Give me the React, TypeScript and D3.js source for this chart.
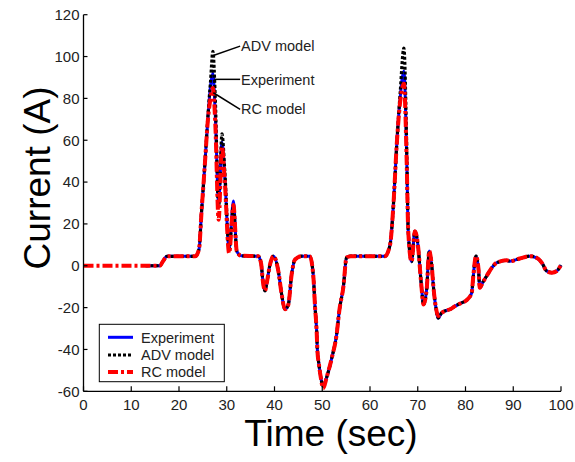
import React from "react";
import * as d3 from "d3";

const times = [0, 13, 16, 16.6, 17.5, 23.4, 24.2, 24.7, 25.4, 26.1, 26.6, 27.1, 27.6, 28.3, 29.0, 29.6, 30.5, 31.4, 32.1, 33,
  36.6, 37.2, 37.6, 38.0, 38.4, 39.0, 39.8, 40.8, 41.5, 42.2, 42.9, 43.6, 44.3, 45.7, 47.4, 48.1, 48.5, 48.8, 49.0, 49.3,
  49.7, 50.2, 50.9, 52.0, 53.0, 53.6, 54.4, 55.1, 56.0, 63.1, 64.2, 64.9, 65.6, 66.3, 67.1, 67.7, 68.0, 68.7, 69.4, 70.1,
  70.5, 70.8, 71.2, 71.9, 72.2, 72.4, 72.9, 73.3, 73.8, 74.3, 75.0, 76.1, 76.8, 77.8, 79.2, 80.2, 81.3, 81.6, 82.2, 82.7,
  83.0, 83.6, 84.4, 85.5, 86.5, 88.6, 89.3, 91.4, 93.5, 94.9, 96.0, 97.0, 98.1, 99.1, 100];

const experiment = [null, 0, 0, 2, 4.5, 4.5, 8, 25, 48, 72, 86, 92, 72, 30, 59, 42, 8, 31, 7, 4.8,
  4.5, 1, -8, -12, -8, 0, 4.6, -2.5, -13.7, -20.8, -18.5, -4, 3, 4.6, 4.5, -4, -20, -30, -41, -47,
  -53.5, -57.5, -53.5, -44, -33, -21, -10.5, 4, 4.6, 4.5, 10, 29, 58, 80, 93, 50, 17, 2, 16.5, 8.6,
  -2.5, -10.5, -18.5, -10.5, 2, 7, 0.7, -10.5, -20, -25, -22.5, -21.3, -20.8, -19.3, -17.7, -16.5, -13, -5.7, 4.6, -1,
  -10.5, -8, -5, -1, 1.4, 2.6, 2.2, 3.5, 4.6, 3.8, 1.4, -2.5, -3.3, -2.5, 0.3];

const advModel = [null, 0, 0, 2, 4.5, 4.5, 8, 25, 48, 73, 88, 102.5, 80, 28, 63, 45, 8, 28, 7, 4.8,
  4.5, 1, -8, -12, -8, 0, 4.6, -2.5, -13.7, -20.8, -18.5, -4, 3, 4.6, 4.5, -4, -20, -30, -41, -47,
  -53.5, -57.5, -53.5, -44, -33, -21, -10.5, 4, 4.6, 4.5, 10, 29, 58, 82, 104, 55, 17, 2, 16.5, 8.6,
  -2.5, -10.5, -18.5, -10.5, 2, 7, 0.7, -10.5, -20, -25, -22.5, -21.3, -20.8, -19.3, -17.7, -16.5, -13, -5.7, 4.6, -1,
  -10.5, -8, -5, -1, 1.4, 2.6, 2.2, 3.5, 4.6, 3.8, 1.4, -2.5, -3.3, -2.5, 0.3];

const rcModel = [0, 0, 0, 2, 4.5, 4.5, 8, 25, 48, 71, 80, 85, 68, 22, 57, 40, 6, 29, 7, 4.8,
  4.5, 1, -8, -12, -8, 0, 4.6, -2.5, -13.7, -20.8, -18.5, -4, 3, 4.6, 4.5, -4, -20, -30, -41, -47,
  -53.5, -58.5, -53.5, -44, -33, -21, -10.5, 4, 4.6, 4.5, 10, 29, 58, 78, 87, 48, 17, 2, 16.5, 8.6,
  -2.5, -10.5, -18.5, -10.5, 2, 7, 0.7, -10.5, -20, -24, -22.5, -21.3, -20.8, -19.3, -17.7, -16.5, -13, -5.7, 4.6, -1,
  -10.5, -8, -5, -1, 1.4, 2.6, 2.2, 3.5, 4.6, 3.8, 1.4, -2.5, -3.3, -2.5, 0.3];

const xTicks = [0, 10, 20, 30, 40, 50, 60, 70, 80, 90, 100];
const yTicks = [-60, -40, -20, 0, 20, 40, 60, 80, 100, 120];

const seriesNames = ["Experiment", "ADV model", "RC model"];
// annotation: [name, from t, from A, to t, to A]
const annotations: [string, number, number, number, number][] = [
  ["ADV model", 27.2, 100.5, 32.8, 105],
  ["Experiment", 27.4, 89.1, 32.8, 89.1],
  ["RC model", 27.2, 82.7, 32.8, 74.8],
];

const styles = [
  { color: "#0000ff", width: 3, dash: "none" },
  { color: "#000000", width: 3.2, dash: "3,2" },
  { color: "#ff0000", width: 4, dash: "10,3,3,3" },
];

export default function App() {
  const x = d3.scaleLinear().domain([0, 100]).range([83.5, 561]);
  const y = d3.scaleLinear().domain([-60, 120]).range([391.3, 14.7]);
  const font = "'Liberation Sans', Arial, Helvetica, sans-serif";

  const makeLine = (vals: (number | null)[]) =>
    d3
      .line<number>()
      .defined((_, i) => vals[i] !== null)
      .x((_, i) => x(times[i]))
      .y((_, i) => y(vals[i] as number))
      .curve(d3.curveMonotoneX)(times.map((t) => t)) || "";

  const allSeries = [experiment, advModel, rcModel];
  const legendYs = [337.3, 355, 372];

  return (
    <svg width={575} height={462} style={{ position: "absolute", left: 0, top: 0, background: "#fff" }}>
      {allSeries.map((vals, i) => (
        <path
          key={i}
          d={makeLine(vals)}
          fill="none"
          stroke={styles[i].color}
          strokeWidth={styles[i].width}
          strokeDasharray={styles[i].dash}
          strokeLinejoin="round"
        />
      ))}
      {/* axes */}
      <line x1={x(0)} x2={x(0)} y1={y(-60)} y2={y(120)} stroke="#000" strokeWidth={1.3} />
      <line x1={x(0)} x2={x(100)} y1={y(-60)} y2={y(-60)} stroke="#000" strokeWidth={1.3} />
      {yTicks.map((v) => (
        <g key={"y" + v}>
          <line x1={x(0)} x2={x(0) + 4} y1={y(v)} y2={y(v)} stroke="#000" strokeWidth={1.2} />
          <text x={x(0) - 4} y={y(v)} dy="0.36em" textAnchor="end" fontSize={15} fill="#222" fontFamily={font}>
            {v}
          </text>
        </g>
      ))}
      {xTicks.map((v) => (
        <g key={"x" + v}>
          <line x1={x(v)} x2={x(v)} y1={y(-60)} y2={y(-60) - 5} stroke="#000" strokeWidth={1.2} />
          <text x={x(v)} y={y(-60) + 19} textAnchor="middle" fontSize={15} fill="#222" fontFamily={font}>
            {v}
          </text>
        </g>
      ))}
      <text
        transform={`translate(50,178) rotate(-90)`}
        textAnchor="middle"
        fontSize={37}
        fill="#000"
        fontFamily={font}
      >
        Current (A)
      </text>
      <text x={331} y={446} textAnchor="middle" fontSize={37} fill="#000" fontFamily={font}>
        Time (sec)
      </text>
      {/* annotations */}
      {annotations.map(([name, t0, a0, t1, a1]) => (
        <g key={name}>
          <line x1={x(t0)} y1={y(a0)} x2={x(t1)} y2={y(a1)} stroke="#000" strokeWidth={1.5} />
          <text x={x(t1) + 1} y={y(a1)} dy="0.36em" fontSize={14.5} fill="#222" fontFamily={font}>
            {name}
          </text>
        </g>
      ))}
      {/* legend */}
      <rect x={99.3} y={324.3} width={125} height={57.4} fill="#fff" stroke="#000" strokeWidth={1} />
      {seriesNames.map((n, i) => (
        <g key={n}>
          <line
            x1={108}
            x2={133}
            y1={legendYs[i]}
            y2={legendYs[i]}
            stroke={styles[i].color}
            strokeWidth={styles[i].width}
            strokeDasharray={styles[i].dash}
          />
          <text x={141} y={legendYs[i]} dy="0.36em" fontSize={14.5} fill="#222" fontFamily={font}>
            {n}
          </text>
        </g>
      ))}
    </svg>
  );
}
